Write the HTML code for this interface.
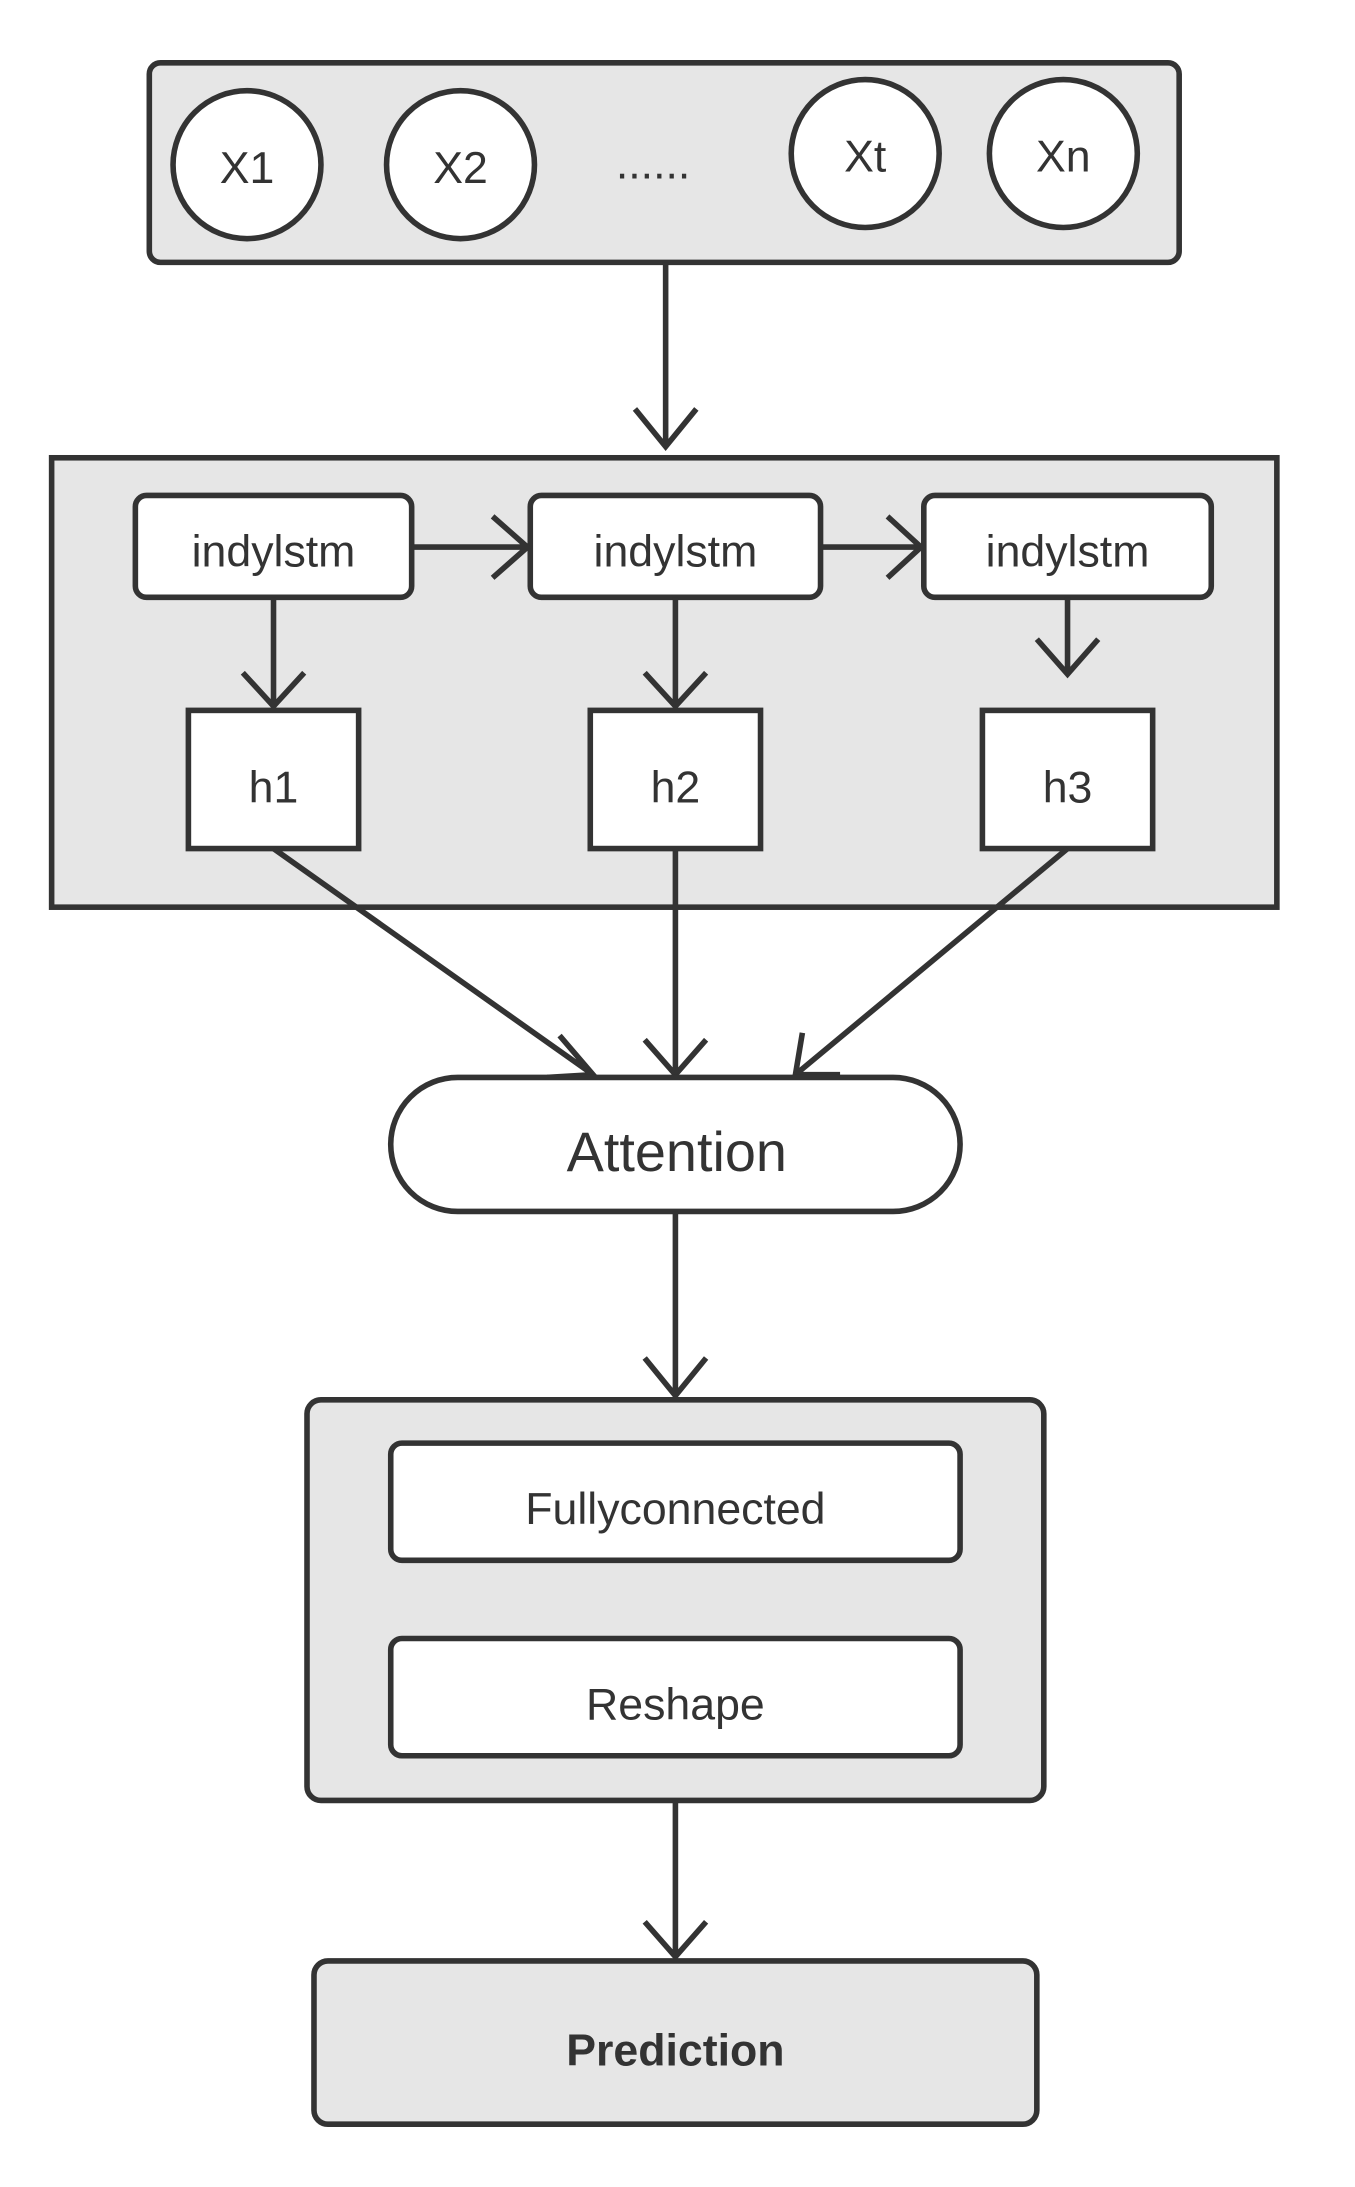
<!DOCTYPE html>
<html><head><meta charset="utf-8"><style>html,body{margin:0;padding:0;background:#fff}svg{display:block}</style></head>
<body>
<svg width="1355" height="2187" viewBox="0 0 971 1567" preserveAspectRatio="none" xmlns="http://www.w3.org/2000/svg" font-family="Liberation Sans, sans-serif" fill="none">
<g stroke="#333" stroke-width="4">
<rect x="107" y="45" width="738" height="143" rx="8" fill="#e6e6e6"/>
<ellipse cx="177" cy="118" rx="53" ry="53" fill="#fff"/>
<ellipse cx="330" cy="118" rx="53" ry="53" fill="#fff"/>
<ellipse cx="620" cy="110" rx="53" ry="53" fill="#fff"/>
<ellipse cx="762" cy="110" rx="53" ry="53" fill="#fff"/>
<path d="M477 188V320M455 293L477 320L499 293"/>
<rect x="37" y="328" width="878" height="322" fill="#e6e6e6"/>
<rect x="97" y="355" width="198" height="73" rx="8" fill="#fff"/>
<rect x="380" y="355" width="208" height="73" rx="8" fill="#fff"/>
<rect x="662" y="355" width="206" height="73" rx="8" fill="#fff"/>
<path d="M295 392H378M353 370L378 392L353 414"/>
<path d="M588 392H660M636 370L660 392L636 414"/>
<path d="M196 428V506M174 482L196 506L218 482"/>
<path d="M484 428V506M462 482L484 506L506 482"/>
<path d="M765 428V483M743 458L765 483L787 458"/>
<rect x="135" y="509" width="122" height="99" fill="#fff"/>
<rect x="423" y="509" width="122" height="99" fill="#fff"/>
<rect x="704" y="509" width="122" height="99" fill="#fff"/>
<path d="M196 608L425 770M401 742L425 770L392 772"/>
<path d="M484 608V770M462 745L484 770L506 745"/>
<path d="M765 608L570 770M575 740L570 770L602 770"/>
<rect x="280" y="772" width="408" height="96" rx="48" fill="#fff"/>
<path d="M484 868V1000M462 973L484 1000L506 973"/>
<rect x="220" y="1003" width="528" height="287" rx="10" fill="#e6e6e6"/>
<rect x="280" y="1034" width="408" height="84" rx="8" fill="#fff"/>
<rect x="280" y="1174" width="408" height="84" rx="8" fill="#fff"/>
<path d="M484 1290V1402M462 1377L484 1402L506 1377"/>
<rect x="225" y="1405" width="518" height="117" rx="10" fill="#e6e6e6"/>
</g>
<g fill="#333" text-anchor="middle" font-size="32">
<text x="177" y="131">X1</text>
<text x="330" y="131">X2</text>
<text x="468" y="128">......</text>
<text x="620" y="123">Xt</text>
<text x="762" y="123">Xn</text>
<text x="196" y="406" font-size="32">indylstm</text>
<text x="484" y="406" font-size="32">indylstm</text>
<text x="765" y="406" font-size="32">indylstm</text>
<text x="196" y="575">h1</text>
<text x="484" y="575">h2</text>
<text x="765" y="575">h3</text>
<text x="485" y="839" font-size="40">Attention</text>
<text x="484" y="1092">Fullyconnected</text>
<text x="484" y="1232">Reshape</text>
<text x="484" y="1480" font-weight="bold">Prediction</text>
</g>
</svg>
</body></html>
